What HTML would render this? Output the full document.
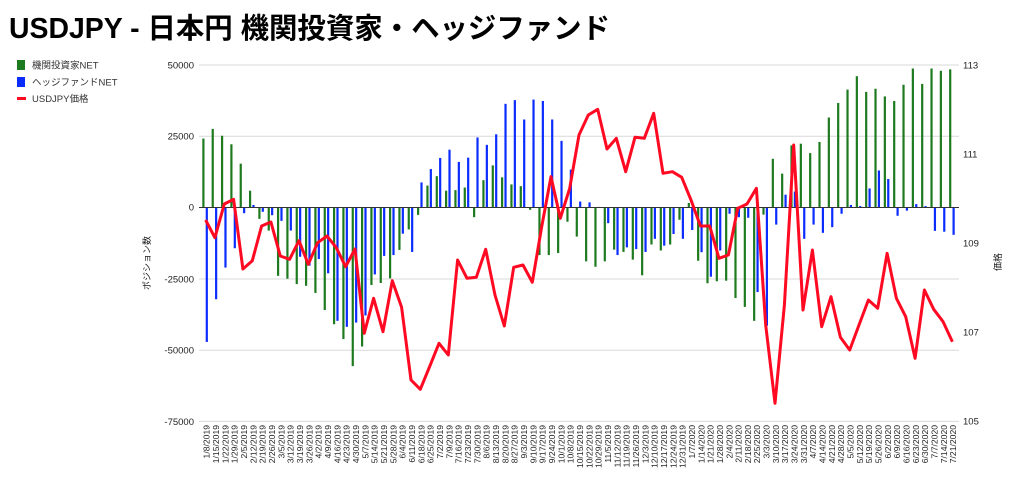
<!DOCTYPE html>
<html><head><meta charset="utf-8">
<style>
html,body{margin:0;padding:0;background:#fff;width:1024px;height:495px;overflow:hidden}
svg{display:block;font-family:"Liberation Sans","Noto Sans CJK JP",sans-serif}
</style></head>
<body>
<svg id="s" width="1024" height="495" viewBox="0 0 1024 495">
<text x="9" y="38" font-size="28.5" font-weight="bold" fill="#000" textLength="601" lengthAdjust="spacingAndGlyphs">USDJPY - 日本円 機関投資家・ヘッジファンド</text>
<rect x="17" y="60" width="8" height="10" fill="#1e7a1e"/>
<text x="32" y="68.5" font-size="9.5" fill="#333">機関投資家NET</text>
<rect x="17" y="77" width="8" height="10" fill="#0a2cff"/>
<text x="32" y="85.5" font-size="9.5" fill="#333">ヘッジファンドNET</text>
<rect x="17" y="97" width="9" height="3" fill="#ff0a22"/>
<text x="32" y="102" font-size="9.5" fill="#333">USDJPY価格</text>
<g stroke="#d9d9d9" stroke-width="1">
<line x1="199" y1="65" x2="959" y2="65"/><line x1="199" y1="136.2" x2="959" y2="136.2"/>
<line x1="199" y1="279" x2="959" y2="279"/><line x1="199" y1="350.2" x2="959" y2="350.2"/><line x1="199" y1="421.4" x2="959" y2="421.4"/>
</g>
<g font-size="9.5" fill="#222" text-anchor="end">
<text x="194" y="68.5">50000</text><text x="194" y="139.7">25000</text><text x="194" y="210.5">0</text>
<text x="194" y="282.5">-25000</text><text x="194" y="353.7">-50000</text><text x="194" y="425">-75000</text>
</g>
<g font-size="9.5" fill="#222">
<text x="963" y="68.5">113</text><text x="963" y="157.5">111</text><text x="963" y="246.5">109</text>
<text x="963" y="335.5">107</text><text x="963" y="424.5">105</text>
</g>
<text transform="translate(150,263) rotate(-90)" font-size="9" fill="#222" text-anchor="middle">ポジション数</text>
<text transform="translate(1001,262) rotate(-90)" font-size="9" fill="#222" text-anchor="middle">価格</text>
<g id="bars"></g>
<line x1="199" y1="207.5" x2="959" y2="207.5" stroke="#333" stroke-width="1"/>
<polyline id="pl" fill="none" stroke="#ff0a22" stroke-width="3" stroke-linejoin="round"/>
<g id="lbl" font-size="8.6" fill="#222" text-anchor="end">
<text transform="translate(209.7,425) rotate(-90)">1/8/2019</text>
<text transform="translate(219.0,425) rotate(-90)">1/15/2019</text>
<text transform="translate(228.4,425) rotate(-90)">1/22/2019</text>
<text transform="translate(237.7,425) rotate(-90)">1/29/2019</text>
<text transform="translate(247.0,425) rotate(-90)">2/5/2019</text>
<text transform="translate(256.4,425) rotate(-90)">2/12/2019</text>
<text transform="translate(265.7,425) rotate(-90)">2/19/2019</text>
<text transform="translate(275.0,425) rotate(-90)">2/26/2019</text>
<text transform="translate(284.4,425) rotate(-90)">3/5/2019</text>
<text transform="translate(293.7,425) rotate(-90)">3/12/2019</text>
<text transform="translate(303.0,425) rotate(-90)">3/19/2019</text>
<text transform="translate(312.3,425) rotate(-90)">3/26/2019</text>
<text transform="translate(321.7,425) rotate(-90)">4/2/2019</text>
<text transform="translate(331.0,425) rotate(-90)">4/9/2019</text>
<text transform="translate(340.3,425) rotate(-90)">4/16/2019</text>
<text transform="translate(349.7,425) rotate(-90)">4/23/2019</text>
<text transform="translate(359.0,425) rotate(-90)">4/30/2019</text>
<text transform="translate(368.3,425) rotate(-90)">5/7/2019</text>
<text transform="translate(377.7,425) rotate(-90)">5/14/2019</text>
<text transform="translate(387.0,425) rotate(-90)">5/21/2019</text>
<text transform="translate(396.3,425) rotate(-90)">5/28/2019</text>
<text transform="translate(405.7,425) rotate(-90)">6/4/2019</text>
<text transform="translate(415.0,425) rotate(-90)">6/11/2019</text>
<text transform="translate(424.3,425) rotate(-90)">6/18/2019</text>
<text transform="translate(433.7,425) rotate(-90)">6/25/2019</text>
<text transform="translate(443.0,425) rotate(-90)">7/2/2019</text>
<text transform="translate(452.3,425) rotate(-90)">7/9/2019</text>
<text transform="translate(461.6,425) rotate(-90)">7/16/2019</text>
<text transform="translate(471.0,425) rotate(-90)">7/23/2019</text>
<text transform="translate(480.3,425) rotate(-90)">7/30/2019</text>
<text transform="translate(489.6,425) rotate(-90)">8/6/2019</text>
<text transform="translate(499.0,425) rotate(-90)">8/13/2019</text>
<text transform="translate(508.3,425) rotate(-90)">8/20/2019</text>
<text transform="translate(517.6,425) rotate(-90)">8/27/2019</text>
<text transform="translate(527.0,425) rotate(-90)">9/3/2019</text>
<text transform="translate(536.3,425) rotate(-90)">9/10/2019</text>
<text transform="translate(545.6,425) rotate(-90)">9/17/2019</text>
<text transform="translate(555.0,425) rotate(-90)">9/24/2019</text>
<text transform="translate(564.3,425) rotate(-90)">10/1/2019</text>
<text transform="translate(573.6,425) rotate(-90)">10/8/2019</text>
<text transform="translate(583.0,425) rotate(-90)">10/15/2019</text>
<text transform="translate(592.3,425) rotate(-90)">10/22/2019</text>
<text transform="translate(601.6,425) rotate(-90)">10/29/2019</text>
<text transform="translate(610.9,425) rotate(-90)">11/5/2019</text>
<text transform="translate(620.3,425) rotate(-90)">11/12/2019</text>
<text transform="translate(629.6,425) rotate(-90)">11/19/2019</text>
<text transform="translate(638.9,425) rotate(-90)">11/26/2019</text>
<text transform="translate(648.3,425) rotate(-90)">12/3/2019</text>
<text transform="translate(657.6,425) rotate(-90)">12/10/2019</text>
<text transform="translate(666.9,425) rotate(-90)">12/17/2019</text>
<text transform="translate(676.3,425) rotate(-90)">12/24/2019</text>
<text transform="translate(685.6,425) rotate(-90)">12/31/2019</text>
<text transform="translate(694.9,425) rotate(-90)">1/7/2020</text>
<text transform="translate(704.3,425) rotate(-90)">1/14/2020</text>
<text transform="translate(713.6,425) rotate(-90)">1/21/2020</text>
<text transform="translate(722.9,425) rotate(-90)">1/28/2020</text>
<text transform="translate(732.3,425) rotate(-90)">2/4/2020</text>
<text transform="translate(741.6,425) rotate(-90)">2/11/2020</text>
<text transform="translate(750.9,425) rotate(-90)">2/18/2020</text>
<text transform="translate(760.2,425) rotate(-90)">2/25/2020</text>
<text transform="translate(769.6,425) rotate(-90)">3/3/2020</text>
<text transform="translate(778.9,425) rotate(-90)">3/10/2020</text>
<text transform="translate(788.2,425) rotate(-90)">3/17/2020</text>
<text transform="translate(797.6,425) rotate(-90)">3/24/2020</text>
<text transform="translate(806.9,425) rotate(-90)">3/31/2020</text>
<text transform="translate(816.2,425) rotate(-90)">4/7/2020</text>
<text transform="translate(825.6,425) rotate(-90)">4/14/2020</text>
<text transform="translate(834.9,425) rotate(-90)">4/21/2020</text>
<text transform="translate(844.2,425) rotate(-90)">4/28/2020</text>
<text transform="translate(853.6,425) rotate(-90)">5/5/2020</text>
<text transform="translate(862.9,425) rotate(-90)">5/12/2020</text>
<text transform="translate(872.2,425) rotate(-90)">5/19/2020</text>
<text transform="translate(881.6,425) rotate(-90)">5/26/2020</text>
<text transform="translate(890.9,425) rotate(-90)">6/2/2020</text>
<text transform="translate(900.2,425) rotate(-90)">6/9/2020</text>
<text transform="translate(909.5,425) rotate(-90)">6/16/2020</text>
<text transform="translate(918.9,425) rotate(-90)">6/23/2020</text>
<text transform="translate(928.2,425) rotate(-90)">6/30/2020</text>
<text transform="translate(937.5,425) rotate(-90)">7/7/2020</text>
<text transform="translate(946.9,425) rotate(-90)">7/14/2020</text>
<text transform="translate(956.2,425) rotate(-90)">7/21/2020</text>
</g>
</svg>
<script>
var G=[24200,27600,25200,22200,15400,5900,-4000,-8100,-24000,-25000,-26900,-27500,-30000,-36000,-41000,-46200,-55700,-48800,-27200,-26500,-24900,-14900,-7700,-2600,7700,11000,5900,6100,7000,-3400,9600,14800,10600,8100,7500,-800,-16700,-16700,-16000,-5000,-10200,-18900,-20800,-18900,-14800,-15600,-18300,-23800,-13000,-15100,-13000,-4300,1600,-18700,-26600,-25900,-25700,-31800,-34900,-39800,-2500,17100,11900,21800,22400,19100,23000,31600,36700,41400,46100,40600,41700,39000,37400,43100,48800,43400,48800,48000,48500];
var B=[-47200,-32200,-21100,-14300,-2000,900,-1500,-2700,-4700,-8100,-17300,-20400,-18100,-23100,-39800,-41900,-40400,-37900,-23500,-17000,-16700,-9200,-15600,8800,13500,17400,20300,16000,17500,24600,22000,25700,36400,37700,30900,37900,37400,30900,23400,13300,2100,1800,200,-5500,-16700,-14000,-14600,-15600,-11000,-13400,-9300,-11000,-7900,-15700,-24300,-15100,-2200,-3400,-3600,-29700,-41500,-6000,4500,5600,-11000,-6000,-8900,-6900,-2200,900,500,6700,13000,10000,-2900,-1100,1200,500,-8200,-8500,-9600];
var P=[510,563,462,448,657,632,528,516,618,628,572,643,578,558,593,650,597,850,745,845,692,772,990,1018,950,880,915,630,685,682,598,735,828,652,645,697,530,380,505,415,255,195,178,297,265,365,262,265,190,370,365,382,450,528,528,625,615,475,462,415,825,1060,765,285,780,600,830,740,862,900,825,750,775,610,745,800,925,720,778,815,875];
var ns="http://www.w3.org/2000/svg",g=document.getElementById("bars");
function y(v){return 207.5-v/25000*71.2;}
function bar(x,v,c){var r=document.createElementNS(ns,"rect");var a=y(v),b=207.5;r.setAttribute("x",x-1);r.setAttribute("y",Math.min(a,b));r.setAttribute("width",2.2);r.setAttribute("height",Math.max(0.5,Math.abs(a-b)));r.setAttribute("fill",c);g.appendChild(r);}
var pts=[];
for(var i=0;i<81;i++){var x=203.3+i*9.335;bar(x,G[i],"#1e7a1e");bar(x+3.4,B[i],"#0a2cff");pts.push((x+2.3).toFixed(1)+","+(50+P[i]/3).toFixed(1));}
document.getElementById("pl").setAttribute("points",pts.join(" "));
</script>
</body></html>
